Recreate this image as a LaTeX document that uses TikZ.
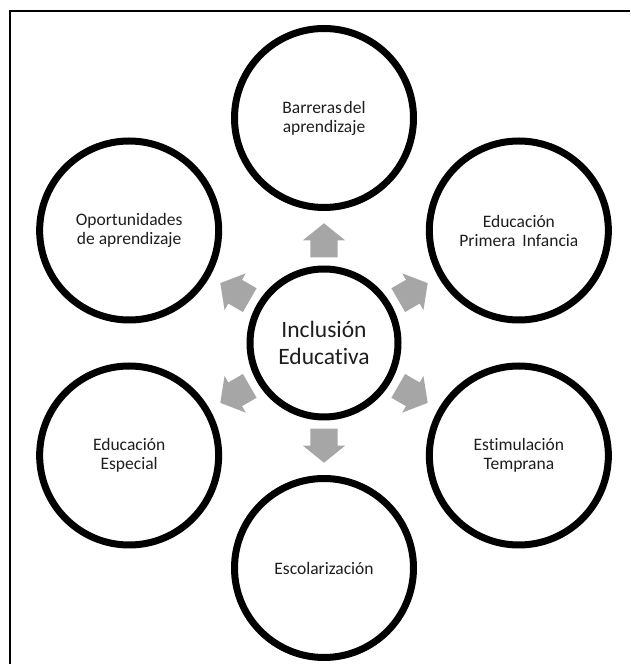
\documentclass[tikz,border=0pt]{standalone}
\usepackage{fontspec}
\setmainfont[Ligatures=NoCommon]{Carlito}
\usetikzlibrary{shapes.arrows,shadows}
\definecolor{arrowgray}{HTML}{A6A6A6}
\definecolor{txt}{HTML}{1E1E1E}
\begin{document}
\begin{tikzpicture}[x=1pt,y=1pt,
  bubble/.style={circle,draw=black,line width=7pt,fill=white,minimum size=179pt,inner sep=0pt,
    align=center,font=\fontsize{17.5}{19}\selectfont,text=txt,
    drop shadow={opacity=0.25,shadow xshift=2.5pt,shadow yshift=-2.5pt}},
  hub/.style={bubble,minimum size=148pt,font=\fontsize{23.5}{27}\selectfont},
  flowarrow/.style={single arrow,fill=arrowgray,draw=none,inner sep=0pt,inner ysep=13.5pt,
    minimum height=34pt,single arrow head extend=7.5pt,single arrow tip angle=102,anchor=tip}]
\useasboundingbox (0,0) rectangle (630,664);
\draw[line width=2pt] (10,0) -- (10,653) -- (630,653);
% hub
\node[hub] (c) at (324,321) {Inclusión\\Educativa};
% outer bubbles
\node[bubble] (b1) at ([shift={(90:225)}]c) {Barreras\hspace{0.1em}del\\aprendizaje};
\node[bubble] (b2) at ([shift={(30:225)}]c) {Educación\\Primera\hspace{0.4em}Infancia};
\node[bubble] (b3) at ([shift={(-30:225)}]c) {Estimulación\\Temprana};
\node[bubble] (b4) at ([shift={(-90:225)}]c) {Escolarización};
\node[bubble] (b5) at ([shift={(-150:225)}]c) {Educación\\Especial};
\node[bubble] (b6) at ([shift={(150:225)}]c) {Oportunidades\\de aprendizaje};
% arrows
\node[flowarrow,rotate=90] (a1) at ([shift={(90:120)}]c) {};
\node[flowarrow,rotate=30] (a2) at ([shift={(30:120)}]c) {};
\node[flowarrow,rotate=-30] (a3) at ([shift={(-30:120)}]c) {};
\node[flowarrow,rotate=-90] (a4) at ([shift={(-90:120)}]c) {};
\node[flowarrow,rotate=-150] (a5) at ([shift={(-150:120)}]c) {};
\node[flowarrow,rotate=150] (a6) at ([shift={(150:120)}]c) {};
\end{tikzpicture}
\end{document}
